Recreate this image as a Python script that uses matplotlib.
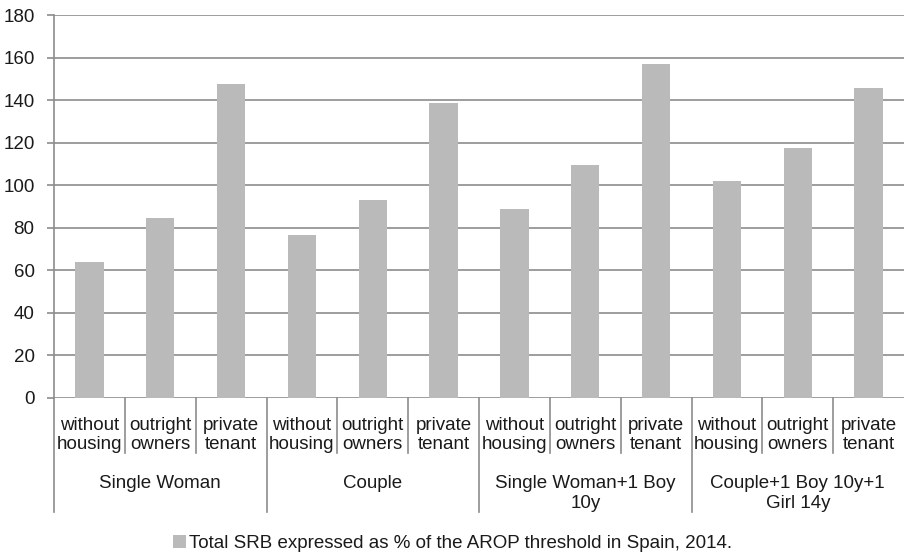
import matplotlib.pyplot as plt
import numpy as np

plt.rcParams['font.family'] = ['Liberation Sans', 'DejaVu Sans']

# Total SRB as % of AROP threshold, by household type and housing situation
households = ['Single Woman', 'Couple', 'Single Woman+1 Boy\n10y', 'Couple+1 Boy 10y+1\nGirl 14y']
housing = ['without\nhousing', 'outright\nowners', 'private\ntenant']
srb_single_woman = [63.7, 84.7, 147.6]
srb_couple = [76.7, 93.0, 138.7]
srb_woman_boy = [88.9, 109.5, 157.2]
srb_couple_kids = [102.0, 117.6, 145.6]
legend_label = 'Total SRB expressed as % of the AROP threshold in Spain, 2014.'

values = srb_single_woman + srb_couple + srb_woman_boy + srb_couple_kids
x = np.arange(len(values))

grid_col = '#8c8c8c'
bar_col = '#bababa'
txt_col = '#1a1a1a'
fs = 13.5

fig = plt.figure(figsize=(9.05, 5.53), dpi=100)
ax = fig.add_axes([54 / 905, 155 / 553, 850 / 905, 383 / 553])

ax.bar(x, values, width=0.4, color=bar_col, zorder=3, label=legend_label)

ax.set_xlim(-0.5, len(values) - 0.5)
ax.set_ylim(0, 180)
ax.set_yticks(np.arange(0, 181, 20))
ax.yaxis.grid(True, color=grid_col, linewidth=1.2, zorder=0)
ax.tick_params(axis='y', length=5, width=1.2, color=grid_col, labelsize=fs,
               labelcolor=txt_col, pad=9)
ax.set_xticks([])
for s in ['top', 'right', 'bottom']:
    ax.spines[s].set_visible(False)
ax.spines['left'].set_color(grid_col)
ax.spines['left'].set_linewidth(1.2)

# multi-level category axis below the bars
lvl1 = -55 / 383
lvl2 = -114 / 383
trans = ax.get_xaxis_transform()
ax.plot([-0.5, -0.5], [0, lvl2], transform=trans, color=grid_col, lw=1.2, clip_on=False)
for i in range(1, len(values)):
    bottom = lvl2 if i % 3 == 0 else lvl1
    ax.plot([i - 0.5, i - 0.5], [0, bottom], transform=trans, color=grid_col,
            lw=1.2, clip_on=False)
for i in range(len(values)):
    ax.text(i, -19 / 383, housing[i % 3], transform=trans, ha='center', va='top',
            fontsize=fs, color=txt_col, linespacing=1.12)
for g, name in enumerate(households):
    ax.text(3 * g + 1, -77 / 383, name, transform=trans, ha='center', va='top',
            fontsize=fs, color=txt_col, linespacing=1.2)

fig.legend(loc='lower center', bbox_to_anchor=(0.5, -0.029), frameon=False,
           fontsize=fs, handlelength=0.7, handleheight=0.7, handletextpad=0.15,
           labelcolor=txt_col)

fig.savefig('out.png', dpi=100)
